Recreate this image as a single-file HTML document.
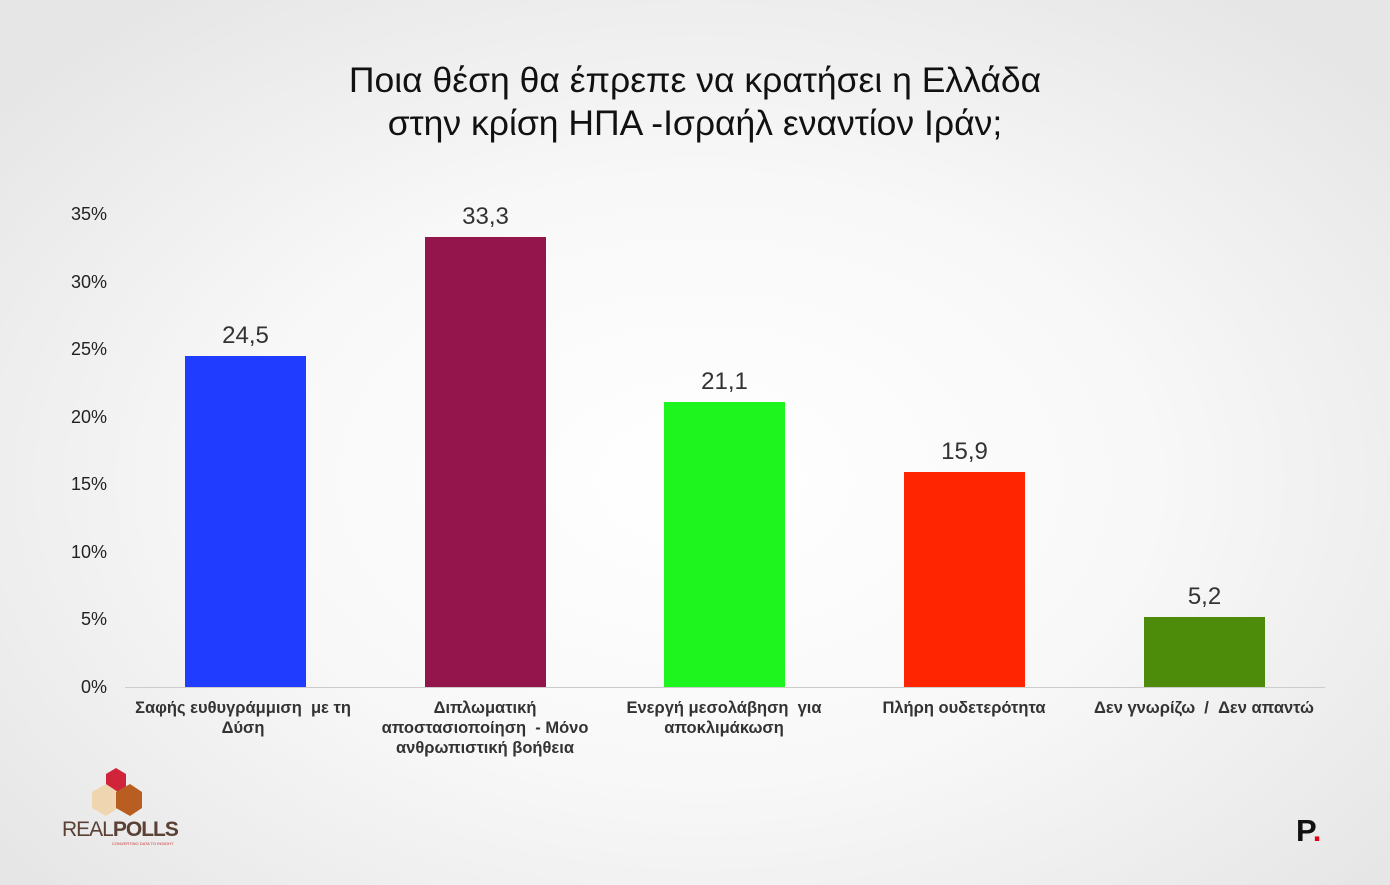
<!DOCTYPE html>
<html><head><meta charset="utf-8"><style>
body{margin:0;width:1390px;height:885px;overflow:hidden;background:radial-gradient(ellipse 900px 600px at 700px 480px,#ffffff 0%,#f8f8f8 50%,#e6e6e6 100%);font-family:"Liberation Sans",sans-serif;position:relative}
.t{position:absolute;left:0;width:1390px;text-align:center;font-size:35.5px;color:#111;line-height:44px}
.y{position:absolute;left:50px;width:57px;text-align:right;font-size:18px;color:#222}
.b{position:absolute;width:121px}
.v{position:absolute;width:121px;text-align:center;font-size:24px;color:#333}
.l{position:absolute;width:260px;text-align:center;font-size:16.5px;font-weight:bold;color:#333;line-height:20px;white-space:nowrap}
</style></head><body>
<div class="t" style="top:58px">Ποια θέση θα έπρεπε να κρατήσει η Ελλάδα</div>
<div class="t" style="top:101px">στην κρίση ΗΠΑ -Ισραήλ εναντίον Ιράν;</div>
<div class="y" style="top:204px">35%</div>
<div class="y" style="top:272px">30%</div>
<div class="y" style="top:339px">25%</div>
<div class="y" style="top:407px">20%</div>
<div class="y" style="top:474px">15%</div>
<div class="y" style="top:542px">10%</div>
<div class="y" style="top:609px">5%</div>
<div class="y" style="top:677px">0%</div>
<div style="position:absolute;left:125px;top:687px;width:1200px;height:1px;background:#ccc"></div>
<div class="b" style="left:185px;top:356px;height:331px;background:#1f3cff"></div>
<div class="b" style="left:425px;top:237px;height:450px;background:#93154b"></div>
<div class="b" style="left:664px;top:402px;height:285px;background:#1ef51e"></div>
<div class="b" style="left:904px;top:472px;height:215px;background:#ff2500"></div>
<div class="b" style="left:1144px;top:617px;height:70px;background:#4c8c0a"></div>
<div class="v" style="left:185px;top:322px">24,5</div>
<div class="v" style="left:425px;top:203px">33,3</div>
<div class="v" style="left:664px;top:368px">21,1</div>
<div class="v" style="left:904px;top:438px">15,9</div>
<div class="v" style="left:1144px;top:583px">5,2</div>
<div class="l" style="left:113px;top:698px">Σαφής ευθυγράμμιση &nbsp;με τη<br>Δύση</div>
<div class="l" style="left:355px;top:698px">Διπλωματική<br>αποστασιοποίηση &nbsp;- Μόνο<br>ανθρωπιστική βοήθεια</div>
<div class="l" style="left:594px;top:698px">Ενεργή μεσολάβηση &nbsp;για<br>αποκλιμάκωση</div>
<div class="l" style="left:834px;top:698px">Πλήρη ουδετερότητα</div>
<div class="l" style="left:1074px;top:698px">Δεν γνωρίζω &nbsp;/ &nbsp;Δεν απαντώ</div>
<svg style="position:absolute;left:90px;top:768px" width="56" height="50">
<polygon points="16,6 26,0 36,6 36,28 26,34 16,28" fill="#d0243a"/>
<polygon points="2,24 16,16 28,24 28,40 16,48 2,40" fill="#efd5b0"/>
<polygon points="26,24 40,16 52,24 52,40 40,48 26,40" fill="#b85e20"/>
</svg>
<div style="position:absolute;left:62px;top:818px;font-size:21px;color:#5a4035;letter-spacing:-1px">REAL<b>POLLS</b></div>
<div style="position:absolute;left:112px;top:841px;font-size:4px;color:#c33">CONVERTING DATA TO INSIGHT</div>
<div style="position:absolute;left:1296px;top:813px;font-size:31px;font-weight:bold;color:#111">P<span style="color:#e3001b">.</span></div>
</body></html>
